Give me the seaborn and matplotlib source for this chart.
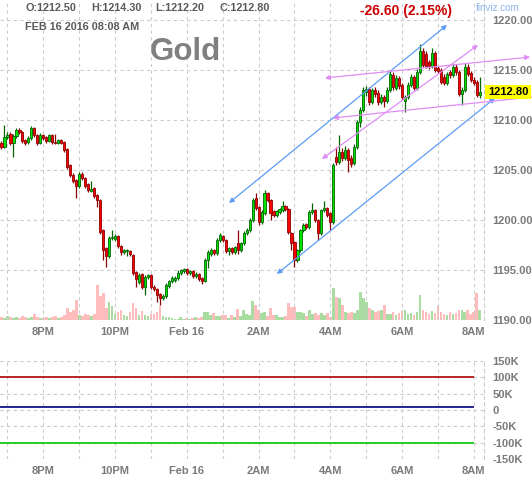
import numpy as np
import pandas as pd
import seaborn as sns
import matplotlib.pyplot as plt
from matplotlib.transforms import blended_transform_factory

# 5-minute gold futures candles, 6:50PM Feb 15 -> 8:10AM Feb 16
opens = [1207.7, 1207.3, 1208.3, 1208.6, 1207.7, 1208.4, 1209.0, 1208.8, 1208.0, 1207.8, 1208.2, 1209.2,
         1208.5, 1207.7, 1208.5, 1208.3, 1207.9, 1208.5, 1207.8, 1207.7, 1208.0, 1207.8, 1207.1, 1205.5,
         1204.5, 1204.0, 1203.4, 1204.6, 1204.2, 1203.6, 1202.9, 1203.2, 1202.5, 1202.0, 1199.0, 1197.2,
         1196.4, 1198.2, 1198.1, 1198.4, 1197.4, 1196.8, 1196.9, 1196.9, 1196.5, 1194.8, 1193.8, 1194.6,
         1193.3, 1194.3, 1194.5, 1193.3, 1193.1, 1192.6, 1192.2, 1192.4, 1193.4, 1193.9, 1194.0, 1194.2,
         1194.7, 1194.9, 1195.1, 1194.7, 1194.9, 1194.4, 1194.6, 1194.2, 1193.9, 1196.0, 1196.6, 1197.0,
         1196.7, 1198.0, 1198.4, 1198.0, 1196.9, 1197.2, 1196.8, 1197.7, 1197.0, 1197.7, 1198.7, 1199.0,
         1200.0, 1202.2, 1201.3, 1199.8, 1200.7, 1202.7, 1202.0, 1200.9, 1200.5, 1200.8, 1201.0, 1201.4,
         1201.1, 1198.7, 1197.8, 1196.0, 1197.0, 1199.0, 1199.6, 1199.3, 1200.8, 1201.0, 1200.0, 1198.7,
         1201.0, 1201.2, 1200.7, 1199.8, 1206.3, 1205.8, 1206.8, 1206.2, 1207.0, 1206.2, 1205.7, 1207.3,
         1209.8, 1211.0, 1212.8, 1213.1, 1211.8, 1213.0, 1212.7, 1211.8, 1212.3, 1211.9, 1213.0, 1214.5,
         1213.2, 1214.2, 1213.5, 1211.9, 1212.3, 1213.5, 1214.3, 1213.2, 1214.8, 1216.9, 1216.6, 1215.8,
         1215.4, 1216.7, 1215.2, 1215.0, 1214.3, 1213.7, 1214.8, 1214.5, 1215.3, 1214.8, 1212.6, 1213.0,
         1215.3, 1214.7, 1214.0, 1213.8, 1212.5]
highs = [1207.9, 1209.5, 1208.8, 1208.8, 1208.6, 1209.2, 1209.2, 1208.9, 1208.1, 1208.4, 1209.4, 1209.3,
         1208.6, 1208.7, 1208.6, 1208.4, 1208.6, 1208.6, 1208.6, 1208.1, 1208.1, 1207.9, 1207.2, 1205.6,
         1204.7, 1204.1, 1204.8, 1204.8, 1204.3, 1203.7, 1203.9, 1203.3, 1202.6, 1202.1, 1199.1, 1197.3,
         1198.4, 1199.0, 1198.6, 1198.5, 1197.5, 1197.1, 1197.1, 1197.0, 1196.6, 1194.9, 1194.7, 1194.7,
         1194.5, 1194.6, 1194.6, 1193.5, 1193.2, 1192.7, 1192.6, 1193.7, 1194.0, 1194.4, 1194.4, 1195.0,
         1195.1, 1195.2, 1195.2, 1195.0, 1195.0, 1194.8, 1194.7, 1194.3, 1196.2, 1197.0, 1197.2, 1197.1,
         1198.2, 1198.7, 1198.5, 1198.1, 1197.3, 1197.3, 1197.4, 1199.0, 1197.8, 1198.9, 1199.2, 1200.2,
         1202.2, 1202.7, 1201.4, 1201.0, 1203.0, 1202.8, 1202.1, 1201.0, 1201.0, 1201.2, 1201.9, 1201.5,
         1201.2, 1198.8, 1197.9, 1197.1, 1199.1, 1199.7, 1199.7, 1201.0, 1201.7, 1201.1, 1200.1, 1201.1,
         1201.9, 1201.3, 1200.8, 1205.7, 1207.3, 1208.5, 1207.2, 1207.4, 1207.2, 1206.5, 1207.6, 1210.0,
         1211.3, 1213.3, 1213.4, 1213.3, 1213.2, 1213.3, 1213.0, 1212.6, 1212.5, 1213.3, 1214.9, 1214.8,
         1214.5, 1214.4, 1213.7, 1212.5, 1213.8, 1214.6, 1214.5, 1215.1, 1217.6, 1217.2, 1216.9, 1216.0,
         1217.2, 1216.9, 1215.4, 1215.2, 1214.6, 1214.8, 1215.0, 1215.6, 1215.6, 1215.0, 1213.3, 1215.7,
         1215.6, 1214.9, 1214.3, 1214.0, 1214.3]
lows = [1207.1, 1207.2, 1208.1, 1207.5, 1206.3, 1208.2, 1208.6, 1207.7, 1207.5, 1207.6, 1208.0, 1208.3,
        1207.5, 1207.6, 1208.0, 1207.7, 1207.8, 1207.6, 1207.6, 1207.6, 1207.6, 1206.8, 1205.1, 1204.3,
        1203.7, 1202.2, 1203.2, 1204.0, 1203.2, 1202.8, 1202.8, 1202.2, 1201.3, 1198.6, 1196.0, 1195.3,
        1196.2, 1198.0, 1197.9, 1197.2, 1196.5, 1196.6, 1196.4, 1196.4, 1194.5, 1193.3, 1193.6, 1193.1,
        1192.5, 1194.1, 1193.1, 1192.9, 1191.8, 1191.5, 1192.0, 1192.2, 1193.2, 1193.7, 1193.8, 1194.0,
        1194.5, 1194.7, 1194.5, 1194.5, 1194.2, 1194.2, 1193.9, 1193.6, 1193.8, 1195.2, 1196.4, 1196.5,
        1196.5, 1197.8, 1197.8, 1196.7, 1196.5, 1196.6, 1196.6, 1196.6, 1196.8, 1197.5, 1198.5, 1198.8,
        1199.8, 1201.0, 1199.5, 1199.6, 1200.5, 1201.8, 1200.0, 1200.3, 1200.3, 1200.6, 1200.8, 1200.9,
        1198.6, 1197.0, 1195.3, 1195.8, 1196.8, 1198.8, 1199.1, 1199.1, 1200.6, 1199.8, 1198.0, 1198.5,
        1200.8, 1200.3, 1199.0, 1199.6, 1205.5, 1205.6, 1205.9, 1206.0, 1204.8, 1205.3, 1205.5, 1207.1,
        1209.3, 1210.8, 1212.4, 1211.5, 1211.6, 1212.3, 1211.5, 1211.6, 1211.3, 1211.7, 1212.8, 1213.0,
        1213.0, 1213.1, 1212.0, 1210.8, 1212.1, 1213.3, 1213.0, 1213.0, 1214.6, 1215.3, 1215.2, 1215.1,
        1215.2, 1214.8, 1214.7, 1213.6, 1213.5, 1213.5, 1214.2, 1214.3, 1214.5, 1212.4, 1211.5, 1212.8,
        1214.4, 1213.8, 1213.5, 1212.3, 1212.2]
closes = [1207.3, 1208.3, 1208.5, 1207.7, 1208.4, 1209.0, 1208.8, 1207.9, 1207.7, 1208.2, 1209.2, 1208.5,
          1207.7, 1208.5, 1208.2, 1207.9, 1208.5, 1207.8, 1207.7, 1208.0, 1207.7, 1207.0, 1205.3, 1204.5,
          1203.9, 1203.4, 1204.6, 1204.2, 1203.4, 1203.0, 1203.1, 1202.4, 1202.0, 1198.8, 1197.0, 1196.4,
          1198.2, 1198.3, 1198.4, 1197.4, 1196.8, 1197.0, 1197.0, 1196.6, 1194.7, 1194.1, 1194.5, 1193.3,
          1194.3, 1194.5, 1193.3, 1193.1, 1192.5, 1192.2, 1192.4, 1193.5, 1193.9, 1194.2, 1194.2, 1194.7,
          1195.0, 1195.1, 1194.7, 1194.9, 1194.4, 1194.6, 1194.1, 1193.9, 1196.0, 1196.8, 1197.0, 1196.7,
          1198.0, 1198.5, 1198.0, 1196.9, 1197.2, 1196.8, 1197.3, 1197.0, 1197.7, 1198.7, 1199.0, 1200.0,
          1202.0, 1201.2, 1199.8, 1200.8, 1202.7, 1202.0, 1200.7, 1200.5, 1200.9, 1201.1, 1201.4, 1201.1,
          1198.8, 1197.7, 1196.0, 1197.0, 1199.0, 1199.5, 1199.3, 1200.8, 1201.0, 1200.0, 1198.7, 1201.0,
          1201.2, 1200.5, 1199.8, 1205.5, 1205.8, 1206.8, 1206.2, 1207.0, 1206.0, 1205.6, 1207.3, 1209.8,
          1211.0, 1213.0, 1213.1, 1211.8, 1213.0, 1212.6, 1211.8, 1212.3, 1211.9, 1213.0, 1214.6, 1213.3,
          1214.2, 1213.4, 1212.3, 1212.3, 1213.5, 1214.3, 1213.2, 1214.8, 1216.9, 1215.5, 1215.4, 1215.4,
          1216.7, 1215.0, 1214.9, 1213.8, 1213.7, 1214.6, 1214.5, 1215.3, 1214.8, 1212.6, 1213.0, 1215.3,
          1214.6, 1214.0, 1213.7, 1212.5, 1212.8]
volume = [3, 2, 4, 3, 2, 3, 2, 4, 3, 2, 3, 6,
          3, 2, 2, 3, 2, 3, 4, 2, 3, 5, 12, 8,
          10, 20, 5, 4, 6, 5, 4, 6, 35, 24, 27, 12,
          18, 14, 6, 8, 10, 5, 4, 8, 17, 12, 5, 9,
          5, 4, 6, 6, 8, 14, 4, 3, 3, 2, 1, 1,
          3, 1, 2, 1, 2, 3, 2, 3, 8, 8, 5, 7,
          4, 4, 5, 5, 2, 5, 3, 11, 4, 10, 6, 5,
          19, 15, 10, 7, 8, 4, 12, 5, 5, 3, 3, 4,
          17, 13, 13, 8, 8, 7, 4, 10, 6, 7, 5, 7,
          5, 7, 3, 32, 23, 22, 15, 8, 7, 8, 7, 10,
          28, 22, 18, 12, 10, 8, 9, 10, 15, 6, 6, 8,
          5, 7, 9, 10, 6, 7, 5, 8, 25, 10, 8, 6,
          9, 7, 14, 8, 6, 5, 8, 6, 7, 10, 10, 8,
          10, 6, 8, 27, 10]

# candle index of every full hour (7PM ... 8AM)
hour_ticks = [2, 14, 26, 38, 50, 62, 74, 86, 98, 110, 122, 134, 146, 158]
hour_labels = ['', '8PM', '', '10PM', '', 'Feb 16', '', '2AM', '', '4AM', '', '6AM', '', '8AM']
price_ticks = [1190, 1195, 1200, 1205, 1210, 1215, 1220]

# lower indicator panel
osc_ticks = [150000, 100000, 50000, 0, -50000, -100000, -150000]
osc_labels = ['150K', '100K', '50K', '0', '-50K', '-100K', '-150K']
osc_levels = [100000, 8000, -100000]
osc_colors = ['#b00000', '#000080', '#00c800']

# drawn trend lines: (index0, price0, index1, price1, colour, arrow style)
trendlines = [
    (76.1, 1201.7, 149.0, 1219.5, '#5b9cf5', '<|-|>'),
    (92.1, 1194.6, 165.1, 1212.2, '#5b9cf5', '<|-|>'),
    (107.2, 1206.1, 159.4, 1217.5, '#df8cf5', '<|-|>'),
    (108.2, 1214.2, 176.8, 1216.3, '#df8cf5', '<|-|>'),
    (110.9, 1210.2, 177.4, 1212.3, '#df8cf5', '<|-'),
]

sns.set_style('white')
plt.rcParams['font.family'] = ['Liberation Sans', 'DejaVu Sans']

W, H = 532, 480
fig = plt.figure(figsize=(W / 100, H / 100), dpi=100)


def rect(x0, y0, x1, y1):
    return [x0 / W, 1 - y1 / H, (x1 - x0) / W, (y1 - y0) / H]


grid_kw = dict(color='#cccccc', linestyle=(0, (3, 3)), linewidth=0.8)
label_kw = dict(fontsize=8, fontweight='bold', color='#7a7a7a')

o, h, l, c = map(np.array, (opens, highs, lows, closes))
idx = np.arange(len(c))
up = c >= o
xlim = (-0.5, 161.4)

# volume (behind the price axes)
vol_ax = fig.add_axes(rect(0, 0, 484, 320))
vol_df = pd.DataFrame({'idx': idx, 'volume': volume, 'dir': np.where(up, 'up', 'down')})
vol_colors = vol_df['dir'].map({'up': '#a9dca1', 'down': '#ffbcbc'})
vol_ax.bar(vol_df['idx'], vol_df['volume'], width=0.92, color=vol_colors, linewidth=0)
vol_ax.set_xlim(xlim)
vol_ax.set_ylim(0, 320)
vol_ax.axis('off')

ax = fig.add_axes(rect(0, 0, 484, 320))
ax.patch.set_alpha(0)
for mask, face, edge in [(up, '#00e400', '#006400'), (~up, '#ff0000', '#8b0000')]:
    ax.vlines(idx[mask], l[mask], h[mask], color=edge, linewidth=0.9, zorder=2)
    ax.bar(idx[mask], np.maximum(np.abs(c - o)[mask], 0.08), bottom=np.minimum(o, c)[mask],
           width=0.72, color=face, edgecolor=edge, linewidth=0.6, zorder=3)

for x0, y0, x1, y1, col, style in trendlines:
    ax.annotate('', xy=(x1, y1), xytext=(x0, y0), annotation_clip=False,
                arrowprops=dict(arrowstyle=style, color=col, lw=0.9, mutation_scale=7,
                                shrinkA=0, shrinkB=0), zorder=4)

ax.set_xlim(xlim)
ax.set_ylim(1190, 1222)
ax.set_xticks(hour_ticks, hour_labels, **label_kw)
ax.set_yticks(price_ticks, [f'{p:.2f}' for p in price_ticks], **label_kw)
ax.yaxis.tick_right()
ax.grid(True, **grid_kw)
ax.set_axisbelow(True)

# lower indicator panel
osc = fig.add_axes(rect(0, 361, 484, 459))
osc.hlines(osc_levels, idx[0] - 0.5, hour_ticks[-1], colors=osc_colors, linewidth=1.2)
osc.set_xlim(xlim)
osc.set_ylim(-150000, 150000)
osc.set_xticks(hour_ticks, hour_labels, **label_kw)
osc.set_yticks(osc_ticks, osc_labels, **label_kw)
osc.yaxis.tick_right()
osc.grid(True, **grid_kw)

for a in (ax, osc):
    for side in ('top', 'left', 'bottom'):
        a.spines[side].set_visible(False)
    a.spines['right'].set_linestyle((0, (3, 3)))
    a.spines['right'].set_color('#cccccc')
    a.spines['right'].set_linewidth(0.8)
    a.tick_params(axis='both', length=0)
    a.tick_params(axis='y', pad=6)
    a.tick_params(axis='x', pad=5)

# last price tag
tag_tr = blended_transform_factory(ax.transAxes, ax.transData)
ax.text(1.008, closes[-1], f'{closes[-1]:.2f}', transform=tag_tr, ha='left', va='center',
        fontsize=8, fontweight='bold', color='black', zorder=10,
        bbox=dict(boxstyle='square,pad=0.22', fc='#ffff00', ec='none'))


# header texts
def ftext(x, y, s, **kw):
    fig.text(x / W, 1 - y / H, s, va='center', **kw)


head_kw = dict(fontsize=7.8, fontweight='bold', color='#5a5a5a')
ftext(25, 8, f'O:{opens[-1]:.2f}', **head_kw)
ftext(91, 8, f'H:{highs[-1]:.2f}', **head_kw)
ftext(155, 8, f'L:{lows[-1]:.2f}', **head_kw)
ftext(220, 8, f'C:{closes[-1]:.2f}', **head_kw)
ftext(25, 27, 'FEB 16 2016 08:08 AM', **head_kw)
ftext(150, 52, 'Gold', fontsize=22.5, fontweight='bold', color='#808080')
ftext(360, 11, '-26.60 (2.15%)', fontsize=10, fontweight='bold', color='#cc0000')
ftext(476, 8, 'finviz.com', fontsize=7.1, color='#8ab4e8')

fig.savefig('out.png', dpi=100)
